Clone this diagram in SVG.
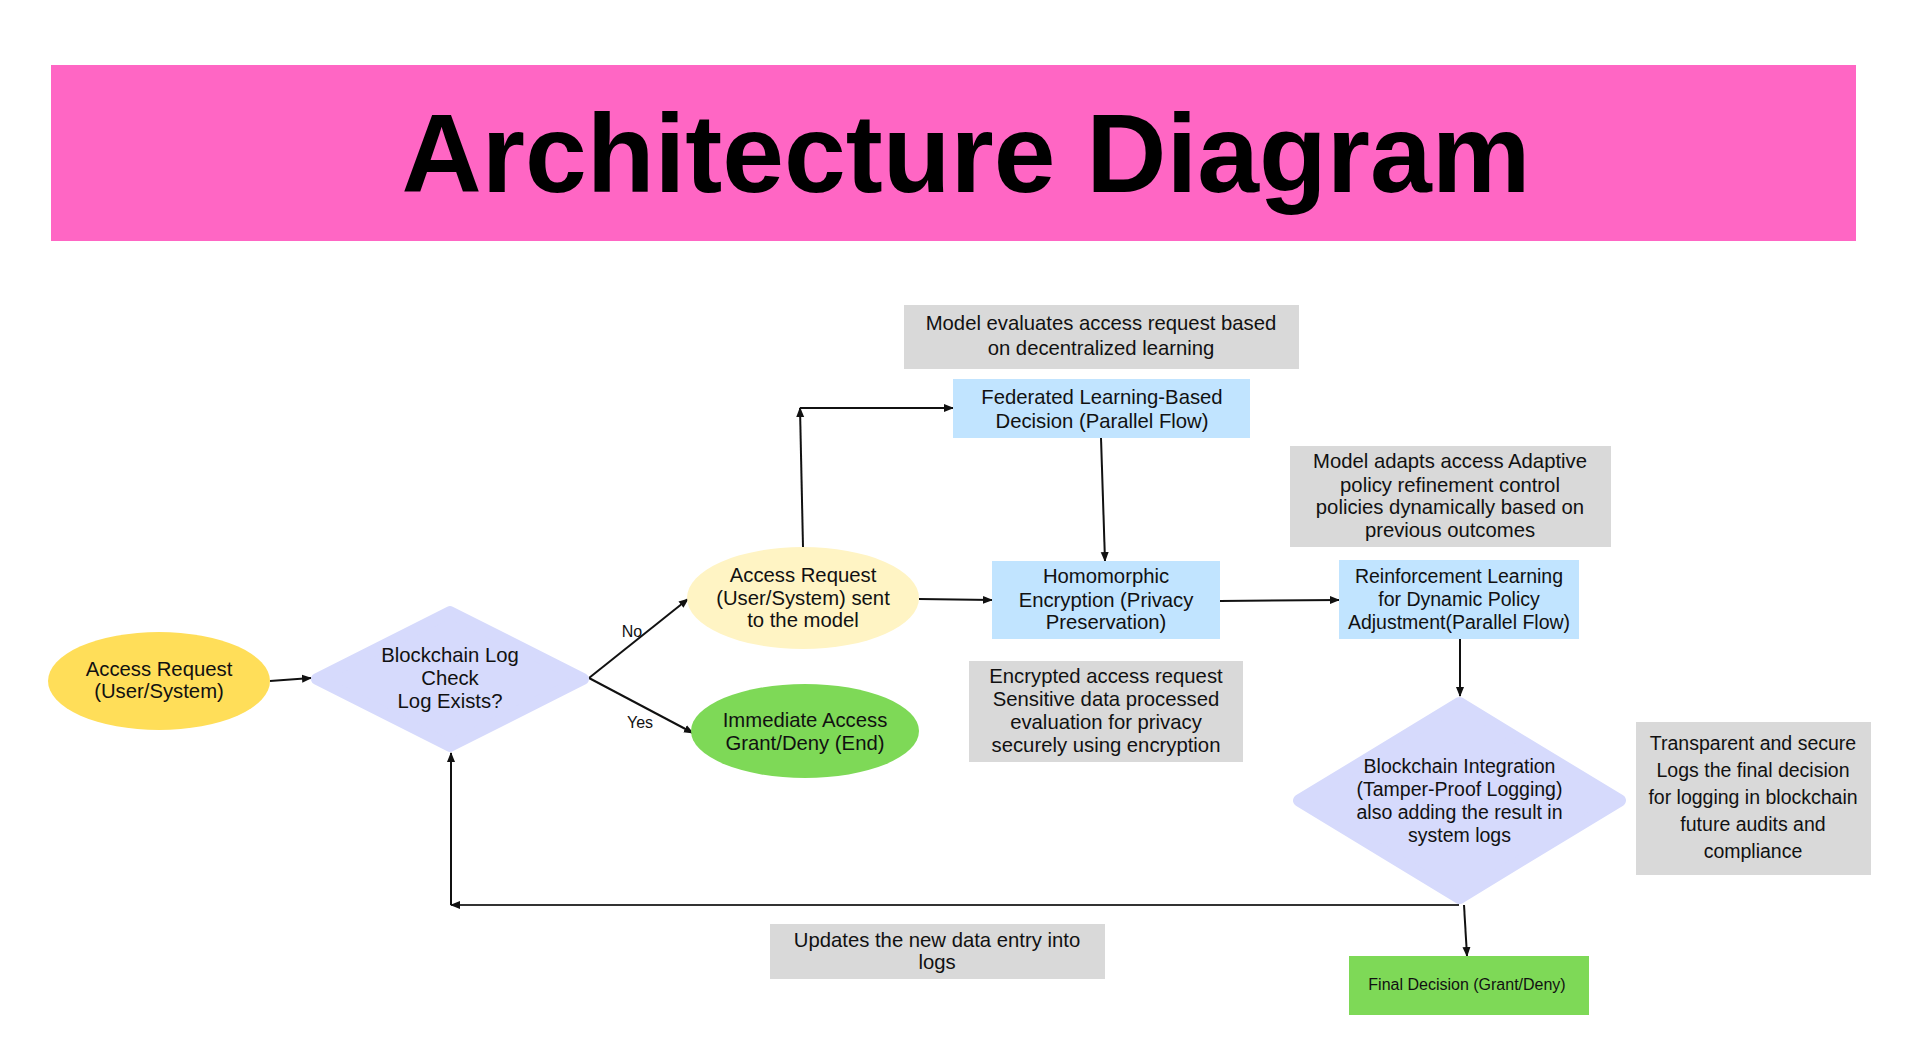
<svg xmlns="http://www.w3.org/2000/svg" width="1920" height="1060" viewBox="0 0 1920 1060">
<style>
  .t { font-family: "Liberation Sans", Arial, sans-serif; font-size: 19.5px; fill: #111; text-anchor: middle; }
  .w { font-size: 20.3px; }
  .lbl { font-family: "Liberation Sans", Arial, sans-serif; font-size: 16px; fill: #111; text-anchor: middle; }
  .note { fill: #D9D9D9; }
  .blue { fill: #C1E4FF; }
  .dia { fill: #D6DAFC; stroke: #D6DAFC; stroke-width: 12; stroke-linejoin: round; }
  .c { fill: none; stroke: #111; stroke-width: 2; marker-end: url(#ah); }
</style>
<defs>
  <marker id="ah" markerUnits="userSpaceOnUse" markerWidth="10" markerHeight="10" refX="9" refY="5" orient="auto">
    <path d="M0,1 L10,5 L0,9 Z" fill="#111"/>
  </marker>
</defs>
<rect width="1920" height="1060" fill="#FFFFFF"/>
<g id="title">
  <rect x="51" y="65" width="1805" height="176" fill="#FF66C4"/>
  <text x="966" y="192" font-family="'Liberation Sans', Arial, sans-serif" font-size="111" font-weight="bold" text-anchor="middle" fill="#000">Architecture Diagram</text>
</g>
<g id="connectors">
  <line class="c" x1="270" y1="681" x2="311" y2="678"/>
  <line class="c" x1="589" y1="678" x2="688" y2="599"/>
  <line class="c" x1="589" y1="678" x2="693" y2="733"/>
  <line class="c" x1="803" y1="547" x2="800" y2="408"/>
  <line class="c" x1="800" y1="408" x2="953" y2="408"/>
  <line class="c" x1="1101" y1="438" x2="1105" y2="561"/>
  <line class="c" x1="919" y1="599" x2="992" y2="600"/>
  <line class="c" x1="1220" y1="601" x2="1339" y2="600"/>
  <line class="c" x1="1460" y1="639" x2="1460" y2="696"/>
  <line class="c" x1="1464" y1="905" x2="1467" y2="956"/>
  <line class="c" x1="1459" y1="905" x2="451" y2="905" style="stroke:#333"/>
  <line class="c" x1="451" y1="905" x2="451" y2="753"/>
  <text class="lbl" x="632" y="637">No</text>
  <text class="lbl" x="640" y="728">Yes</text>
</g>
<g id="access-request">
  <ellipse cx="159" cy="681" rx="111" ry="49" fill="#FFDE59"/>
  <text class="t w" x="159" y="676">Access Request</text>
  <text class="t w" x="159" y="698">(User/System)</text>
</g>
<g id="log-check">
  <polygon class="dia" points="450,612 583,679 450,746 317,679"/>
  <text class="t w" x="450" y="662">Blockchain Log</text>
  <text class="t w" x="450" y="685">Check</text>
  <text class="t w" x="450" y="708">Log Exists?</text>
</g>
<g id="request-sent">
  <ellipse cx="803" cy="598" rx="116" ry="51" fill="#FFF4C4"/>
  <text class="t w" x="803" y="582">Access Request</text>
  <text class="t w" x="803" y="605">(User/System) sent</text>
  <text class="t w" x="803" y="627">to the model</text>
</g>
<g id="immediate">
  <ellipse cx="805" cy="731" rx="114" ry="47" fill="#7ED957"/>
  <text class="t w" x="805" y="727">Immediate Access</text>
  <text class="t w" x="805" y="750">Grant/Deny (End)</text>
</g>
<g id="note-federated">
  <rect class="note" x="904" y="305" width="395" height="64"/>
  <text class="t w" x="1101" y="330">Model evaluates access request based</text>
  <text class="t w" x="1101" y="355">on decentralized learning</text>
</g>
<g id="federated">
  <rect class="blue" x="953" y="379" width="297" height="59"/>
  <text class="t w" x="1102" y="404">Federated Learning-Based</text>
  <text class="t w" x="1102" y="428">Decision (Parallel Flow)</text>
</g>
<g id="homomorphic">
  <rect class="blue" x="992" y="561" width="228" height="78"/>
  <text class="t w" x="1106" y="583">Homomorphic</text>
  <text class="t w" x="1106" y="607">Encryption (Privacy</text>
  <text class="t w" x="1106" y="629">Preservation)</text>
</g>
<g id="note-encrypted">
  <rect class="note" x="969" y="661" width="274" height="101"/>
  <text class="t w" x="1106" y="683">Encrypted access request</text>
  <text class="t w" x="1106" y="706">Sensitive data processed</text>
  <text class="t w" x="1106" y="729">evaluation for privacy</text>
  <text class="t w" x="1106" y="752">securely using encryption</text>
</g>
<g id="note-adaptive">
  <rect class="note" x="1290" y="446" width="321" height="101"/>
  <text class="t w" x="1450" y="468">Model adapts access Adaptive</text>
  <text class="t w" x="1450" y="492">policy refinement control</text>
  <text class="t w" x="1450" y="514">policies dynamically based on</text>
  <text class="t w" x="1450" y="537">previous outcomes</text>
</g>
<g id="reinforcement">
  <rect class="blue" x="1339" y="560" width="240" height="79"/>
  <text class="t" x="1459" y="583">Reinforcement Learning</text>
  <text class="t" x="1459" y="606">for Dynamic Policy</text>
  <text class="t" x="1459" y="629">Adjustment(Parallel Flow)</text>
</g>
<g id="blockchain-integration">
  <polygon class="dia" points="1459.5,703 1620,800.5 1459.5,898 1299,800.5"/>
  <text class="t" x="1459.5" y="773">Blockchain Integration</text>
  <text class="t" x="1459.5" y="796">(Tamper-Proof Logging)</text>
  <text class="t" x="1459.5" y="819">also adding the result in</text>
  <text class="t" x="1459.5" y="842">system logs</text>
</g>
<g id="note-transparent">
  <rect class="note" x="1636" y="722" width="235" height="153"/>
  <text class="t" x="1753" y="750">Transparent and secure</text>
  <text class="t" x="1753" y="777">Logs the final decision</text>
  <text class="t" x="1753" y="804">for logging in blockchain</text>
  <text class="t" x="1753" y="831">future audits and</text>
  <text class="t" x="1753" y="858">compliance</text>
</g>
<g id="final-decision">
  <rect x="1349" y="956" width="240" height="59" fill="#7ED957"/>
  <text class="t" x="1467" y="990" style="font-size:16px">Final Decision (Grant/Deny)</text>
</g>
<g id="note-updates">
  <rect class="note" x="770" y="924" width="335" height="55"/>
  <text class="t w" x="937" y="947">Updates the new data entry into</text>
  <text class="t w" x="937" y="969">logs</text>
</g>
</svg>
